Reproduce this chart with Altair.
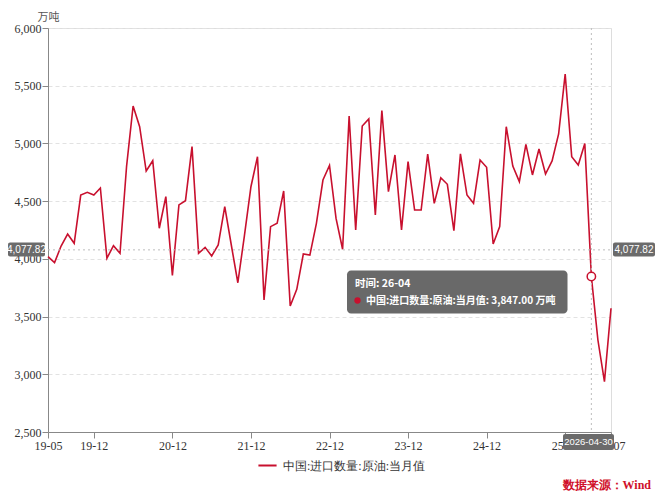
import altair as alt
import pandas as pd

series_name = "中国:进口数量:原油:当月值"
unit = "万吨"
months = list(pd.date_range("2019-05-01", periods=87, freq="MS").strftime("%y-%m"))
values = [
    4019, 3967, 4111, 4215, 4135, 4553, 4577, 4553, 4614, 4005, 4114, 4048,
    4800, 5324, 5145, 4761, 4850, 4265, 4539, 3857, 4467, 4504, 4972, 4048,
    4100, 4025, 4120, 4452, 4120, 3793, 4200, 4625, 4885, 3644, 4279, 4308,
    4588, 3592, 3736, 4042, 4033, 4308, 4683, 4810, 4350, 4083, 5238, 4250,
    5151, 5212, 4380, 5284, 4582, 4900, 4250, 4842, 4423, 4423, 4908, 4481,
    4703, 4646, 4244, 4910, 4553, 4481, 4856, 4793, 4129, 4279, 5145, 4804,
    4669, 4992, 4727, 4952, 4735, 4848, 5082, 5601, 4885, 4813, 5000, 3847,
    3297, 2936, 3572,
]
tick_labels = ["19-05", "19-12", "20-12", "21-12", "22-12", "23-12", "24-12", "25-12", "26-07"]
y_ticks = [2500, 3000, 3500, 4000, 4500, 5000, 5500, 6000]
hover_month = "26-04"
hover_date = "2026-04-30"
crosshair_value = 4077.82
crosshair_label = "4,077.82"
source_text = "数据来源：Wind"

RED = "#C8102E"
W, H = 563, 404
SERIF = "Liberation Serif"
SANS = "Noto Sans CJK SC"
LSANS = "Liberation Sans"

df = pd.DataFrame({"month": months, "value": values, "series": series_name})
hv = values[months.index(hover_month)]
tip_line = f"{series_name}: {hv:,.2f}  {unit}"

x_scale = alt.Scale(type="point", padding=0)
y_scale = alt.Scale(domain=[2500, 6000], nice=False, zero=False)

base = alt.Chart(df)

line = base.mark_line(strokeWidth=1.6).encode(
    x=alt.X("month:O", scale=x_scale, sort=None,
            axis=alt.Axis(values=tick_labels, labelAngle=0, title=None, grid=False,
                          domainColor="#888", tickColor="#888", tickSize=6,
                          labelFont=SERIF, labelFontSize=12, labelColor="#333",
                          labelPadding=2)),
    y=alt.Y("value:Q", scale=y_scale,
            axis=alt.Axis(values=y_ticks, format=",.0f", title=unit, titleAngle=0,
                          titleX=0, titleY=-11, titleAlign="center",
                          titleBaseline="middle", titleFont=SANS, titleFontSize=11,
                          titleFontWeight="normal", titleColor="#555",
                          grid=True, gridColor="#e2e2e2", gridDash=[4, 3],
                          domainColor="#888", tickColor="#888", tickSize=6,
                          labelFont=SERIF, labelFontSize=12, labelColor="#333",
                          labelPadding=1)),
    color=alt.Color("series:N", scale=alt.Scale(range=[RED]),
                    legend=alt.Legend(orient="none", legendX=209, legendY=427,
                                      title=None, symbolType="stroke",
                                      symbolStrokeWidth=2, symbolSize=330,
                                      labelFont=SERIF, labelFontSize=12,
                                      labelColor="#333", labelOffset=5)),
)

hline = alt.Chart(pd.DataFrame({"v": [crosshair_value]})).mark_rule(
    color="#bdbdbd", strokeDash=[2, 3], strokeWidth=1
).encode(y=alt.Y("v:Q", scale=y_scale), x=alt.value(0), x2=alt.value(W))

vline = base.transform_filter(alt.datum.month == hover_month).mark_rule(
    color="#bdbdbd", strokeDash=[2, 3], strokeWidth=1
).encode(x=alt.X("month:O", scale=x_scale, sort=None), y=alt.value(0), y2=alt.value(H))

dot = base.transform_filter(alt.datum.month == hover_month).mark_point(
    shape="circle", filled=True, fill="white", stroke=RED, strokeWidth=1.5,
    size=70, opacity=1
).encode(x=alt.X("month:O", scale=x_scale, sort=None), y=alt.Y("value:Q", scale=y_scale))

one = pd.DataFrame({"a": [0]})

def box(x1, x2, y1, y2, fill="#666", op=0.95, r=3):
    return alt.Chart(one).mark_rect(fill=fill, opacity=op, cornerRadius=r).encode(
        x=alt.value(x1), x2=alt.value(x2), y=alt.value(y1), y2=alt.value(y2))

def label(txt, x, y, align="center", size=10.5, color="white", weight="normal", font=SANS):
    return alt.Chart(one).mark_text(text=txt, align=align, baseline="middle",
                                    fontSize=size, color=color, fontWeight=weight,
                                    font=font).encode(x=alt.value(x), y=alt.value(y))

left_box = box(-40, -3, 214.5, 228.5, fill="#6b6b6b", op=1, r=2)
left_txt = label(crosshair_label, -21.5, 221.5, size=10, font=LSANS)
right_box = box(565, 607, 214.5, 228.5, fill="#6b6b6b", op=1, r=2)
right_txt = label(crosshair_label, 586, 221.5, size=10, font=LSANS)
bottom_box = box(515, 566, 406, 422, fill="#6b6b6b", op=1, r=2)
bottom_txt = label(hover_date, 540.5, 414, size=9.5, font=LSANS)

tip_box = box(299, 519.5, 242.5, 285.5, fill="#5e5e5e", op=0.93, r=4)
tip_t1 = label(f"时间: {hover_month}", 307, 256, align="left", size=10.5, weight="bold")
tip_dot = alt.Chart(one).mark_point(shape="circle", filled=True, color=RED, size=40,
                                    opacity=1).encode(x=alt.value(309.5), y=alt.value(272.5))
tip_t2 = label(tip_line, 318, 272.5, align="left", size=10, weight="bold")

source = label(source_text, 603, 457, align="right", size=12, color="#D0102A",
               weight="bold", font=SERIF)

chart = alt.layer(
    line, hline, vline, dot, left_box, left_txt, right_box, right_txt,
    bottom_box, bottom_txt, tip_box, tip_t1, tip_dot, tip_t2, source
).properties(
    width=W, height=H,
    autosize=alt.AutoSizeParams(type="none"),
    padding={"left": 40, "top": 20, "right": 44, "bottom": 60},
).configure_view(stroke=None).configure(background="white")

chart.save("out.html", embed_options={"renderer": "svg", "actions": False})
